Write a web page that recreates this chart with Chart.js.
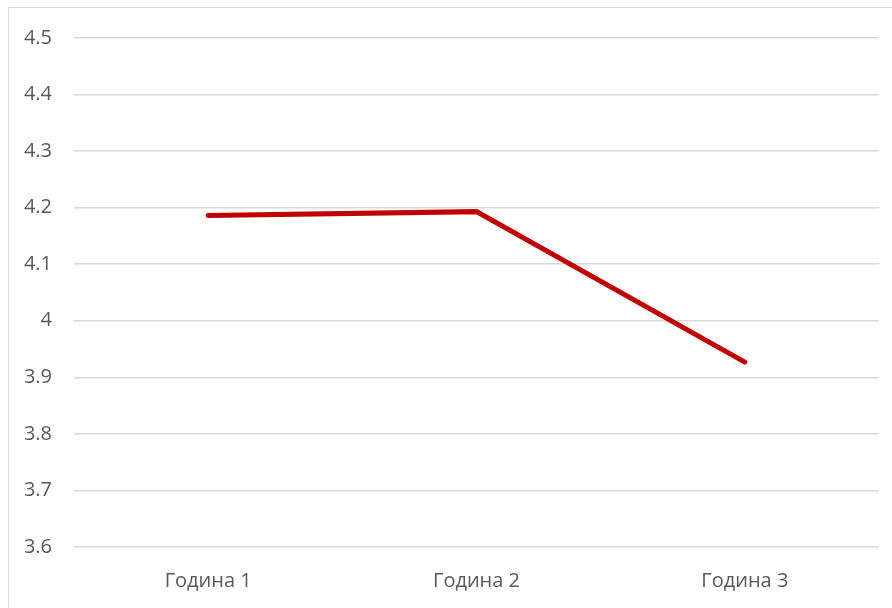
<!DOCTYPE html>
<html>
<head>
<meta charset="utf-8">
<script src="https://cdn.jsdelivr.net/npm/chart.js@4/dist/chart.umd.min.js"></script>
<style>
  html, body { margin: 0; padding: 0; background: #fff; overflow: hidden; }
  #wrap { position: relative; width: 892px; height: 608px; }
  #frame { position: absolute; left: 8px; top: 7px; width: 920px; height: 640px; border: 1px solid #d9d9d9; box-sizing: border-box; }
  canvas { position: absolute; left: 0; top: 0; }
</style>
</head>
<body>
<div id="wrap">
  <div id="frame"></div>
  <canvas id="chart" width="892" height="608"></canvas>
</div>
<script>
// yearly averages
let years = ['Година 1', 'Година 2', 'Година 3'];
let scores = [4.186, 4.193, 3.927];
let yMin = 3.6, yMax = 4.5, yStep = 0.1;

let tickFont = { family: '"Open Sans", sans-serif', size: 20 };

new Chart(document.getElementById('chart'), {
  type: 'line',
  data: {
    labels: years,
    datasets: [{
      data: scores,
      borderColor: '#c00000',
      borderWidth: 5,
      borderCapStyle: 'round',
      borderJoinStyle: 'miter',
      pointRadius: 0,
      tension: 0,
      fill: false
    }]
  },
  options: {
    responsive: false,
    animation: false,
    layout: { padding: { left: 0, right: 13, top: 38, bottom: 0 } },
    plugins: { legend: { display: false }, tooltip: { enabled: false } },
    scales: {
      x: {
        offset: true,
        grid: { display: false },
        border: { display: false },
        ticks: { color: '#595959', font: tickFont, padding: 14, maxRotation: 0 },
        afterFit: function(axis) { axis.height = 61; }
      },
      y: {
        min: yMin,
        max: yMax,
        grid: { color: '#d9d9d9', lineWidth: 1.5, drawTicks: false },
        border: { display: false },
        ticks: {
          stepSize: yStep,
          color: '#595959',
          font: tickFont,
          padding: 22,
          callback: function(v) { return String(Number(v.toFixed(1))); }
        },
        afterFit: function(axis) { axis.width = 74; }
      }
    }
  }
});
</script>
</body>
</html>
